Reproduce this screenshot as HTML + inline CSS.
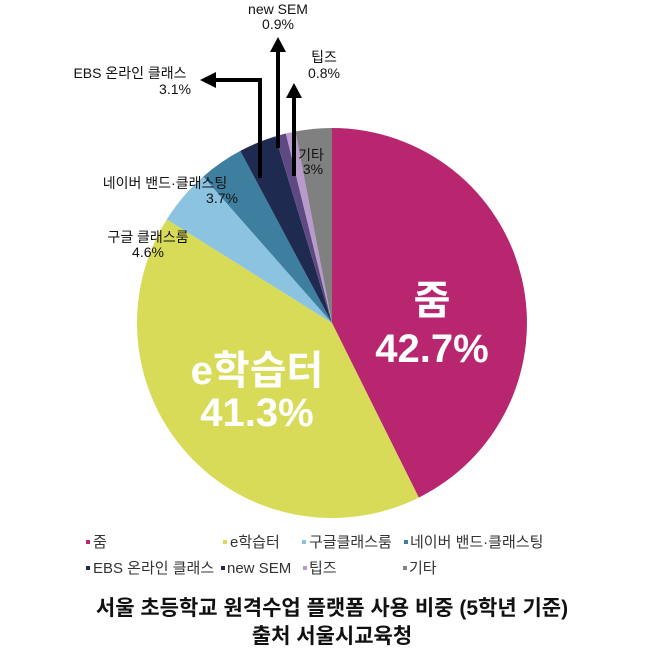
<!DOCTYPE html>
<html><head><meta charset="utf-8"><style>
body{margin:0;background:#fff;}
svg text{font-family:"Liberation Sans","Noto Sans CJK KR",sans-serif;}
</style></head><body>
<svg width="658" height="658" viewBox="0 0 658 658" xmlns="http://www.w3.org/2000/svg">
<path d="M332 323L332 128A195 195 0 0 1 418.8 497.6Z" fill="#b8266f"/>
<path d="M332 323L418.8 497.6A195 195 0 0 1 166.8 219.4Z" fill="#d8db57"/>
<path d="M332 323L166.8 219.4A195 195 0 0 1 203.2 176.6Z" fill="#8cc3e0"/>
<path d="M332 323L203.2 176.6A195 195 0 0 1 240.3 150.9Z" fill="#3e7fa0"/>
<path d="M332 323L240.3 150.9A195 195 0 0 1 275.3 136.4Z" fill="#1e2a50"/>
<path d="M332 323L275.3 136.4A195 195 0 0 1 285.9 133.5Z" fill="#5e4a82"/>
<path d="M332 323L285.9 133.5A195 195 0 0 1 295.5 131.5Z" fill="#b89acb"/>
<path d="M332 323L295.5 131.5A195 195 0 0 1 332 128Z" fill="#808080"/>
<g stroke="#000" stroke-width="4" fill="none">
<polyline points="260,178 260,80 212,80"/>
<line x1="278" y1="148" x2="278" y2="50"/>
<line x1="294" y1="176" x2="294" y2="96"/>
</g>
<g fill="#000">
<polygon points="200,80 216,72 216,88"/>
<polygon points="278,37 270,52 286,52"/>
<polygon points="294,83 286,98 302,98"/>
</g>
<g font-size="14" fill="#111" text-anchor="middle">
<text x="278" y="14">new SEM</text><text x="278" y="29">0.9%</text>
<text x="324" y="62">팁즈</text><text x="324" y="78">0.8%</text>
<text x="130" y="78">EBS 온라인 클래스</text><text x="175" y="94">3.1%</text>
<text x="311" y="160">기타</text><text x="313" y="174">3%</text>
<text x="165" y="188">네이버 밴드·클래스팅</text><text x="222" y="203">3.7%</text>
<text x="148" y="242">구글 클래스룸</text><text x="148" y="257">4.6%</text>
</g>
<g font-weight="bold" fill="#fff" text-anchor="middle">
<text x="432" y="314" font-size="40">줌</text>
<text x="432" y="362" font-size="40">42.7%</text>
<text x="257" y="384" font-size="40">e학습터</text>
<text x="257" y="426" font-size="40">41.3%</text>
</g>
<g font-size="15" fill="#333">
<rect x="86" y="540" width="4" height="4" fill="#b8266f"/><text x="93" y="547">줌</text>
<rect x="223" y="540" width="4" height="4" fill="#d8db57"/><text x="230" y="547">e학습터</text>
<rect x="302" y="540" width="4" height="4" fill="#8cc3e0"/><text x="309" y="547">구글클래스룸</text>
<rect x="404" y="540" width="4" height="4" fill="#3e7fa0"/><text x="410" y="547">네이버 밴드·클래스팅</text>
<rect x="86" y="566" width="4" height="4" fill="#1e2a50"/><text x="93" y="573">EBS 온라인 클래스</text>
<rect x="221" y="566" width="4" height="4" fill="#1e2a50"/><text x="227" y="573">new SEM</text>
<rect x="303" y="566" width="4" height="4" fill="#b89acb"/><text x="309" y="573">팁즈</text>
<rect x="403" y="566" width="4" height="4" fill="#808080"/><text x="409" y="573">기타</text>
</g>
<g font-size="21" font-weight="bold" fill="#111" text-anchor="middle">
<text x="332" y="615">서울 초등학교 원격수업 플랫폼 사용 비중 (5학년 기준)</text>
<text x="332" y="643">출처 서울시교육청</text>
</g>
</svg>
</body></html>
